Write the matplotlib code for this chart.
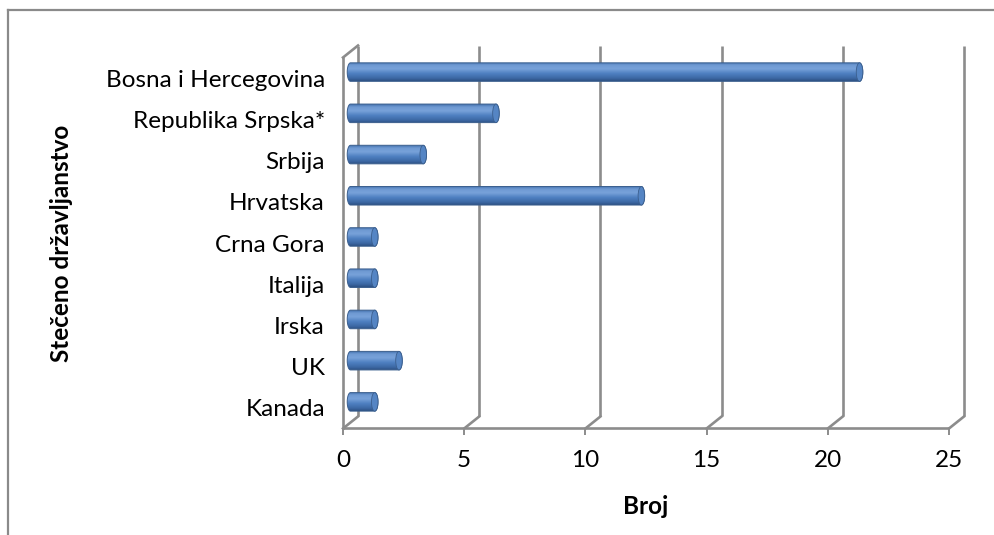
import numpy as np
import matplotlib
matplotlib.use("Agg")
import matplotlib.pyplot as plt
from matplotlib.transforms import offset_copy
from matplotlib.path import Path
from matplotlib.patches import PathPatch, Ellipse
from matplotlib.colors import LinearSegmentedColormap

categories = ["Bosna i Hercegovina", "Republika Srpska*", "Srbija", "Hrvatska",
              "Crna Gora", "Italija", "Irska", "UK", "Kanada"]
values = [21, 6, 3, 12, 1, 1, 1, 2, 1]
x_ticks = [0, 5, 10, 15, 20, 25]
x_label = "Broj"
y_label = "Stečeno državljanstvo"

FONT = "Lato"
plt.rcParams['font.family'] = [FONT, 'DejaVu Sans']

W, H = 995, 535
fig = plt.figure(figsize=(W / 100, H / 100), dpi=100)
fig.patch.set_facecolor("white")

# outer chart border (left and top visible)
fig.add_artist(plt.Line2D([8 / W, 8 / W], [0, 1 - 10 / H], transform=fig.transFigure,
                          color="#8a8a8a", lw=1.6))
fig.add_artist(plt.Line2D([8 / W, 1], [1 - 10 / H, 1 - 10 / H], transform=fig.transFigure,
                          color="#8a8a8a", lw=1.6))

left_px, right_px, bottom_px, top_px = 343, 949, 428.5, 57.5
ax = fig.add_axes([left_px / W, 1 - bottom_px / H, (right_px - left_px) / W,
                   (bottom_px - top_px) / H])
ax.set_facecolor("none")
for s in ax.spines.values():
    s.set_visible(False)

n = len(categories)
ypos = np.arange(n)[::-1]  # first category at top
ax.set_xlim(0, 25)
ax.set_ylim(-0.5, n - 0.5)

DX, DY = 15, 12  # depth offset in pixels
back = offset_copy(ax.transData, fig=fig, x=DX, y=DY, units='dots')
mid = offset_copy(ax.transData, fig=fig, x=DX / 2, y=DY / 2, units='dots')

gcol = "#8c8c8c"
glw = 1.9
y0, y1 = ax.get_ylim()
# back gridlines
for t in x_ticks:
    ax.plot([t, t], [y0, y1], color=gcol, lw=glw, transform=back, clip_on=False,
            solid_capstyle='butt', zorder=1)
for t in x_ticks:
    p0 = ax.transData.transform((t, y0))
    p1 = back.transform((t, y0))
    fig.add_artist(plt.Line2D([p0[0] / W, p1[0] / W], [p0[1] / H, p1[1] / H],
                              transform=fig.transFigure, color=gcol, lw=glw))
# front floor line
ax.plot([0, 25], [y0, y0], color=gcol, lw=glw, clip_on=False, zorder=1,
        solid_capstyle='butt')
# front left wall
ax.plot([0, 0], [y0, y1], color=gcol, lw=glw, clip_on=False, zorder=1)
p0 = ax.transData.transform((0, y1))
p1 = back.transform((0, y1))
fig.add_artist(plt.Line2D([p0[0] / W, p1[0] / W], [p0[1] / H, p1[1] / H],
                          transform=fig.transFigure, color=gcol, lw=glw))

# cylinders
cmap = LinearSegmentedColormap.from_list(
    "cyl", [(0.0, "#4270ad"), (0.15, "#6e99d2"), (0.35, "#78a2da"),
            (0.6, "#4f80c1"), (0.85, "#3d69a5"), (1.0, "#2d5184")])
grad = np.linspace(0, 1, 64).reshape(-1, 1)
bh = 0.45
cap_w = 0.27
for yc, v in zip(ypos, values):
    yb, yt = yc - bh / 2, yc + bh / 2
    th = np.linspace(np.pi / 2, -np.pi / 2, 40)
    right = np.column_stack([v + cap_w / 2 * np.cos(th), yc + bh / 2 * np.sin(th)])
    th2 = np.linspace(-np.pi / 2, -3 * np.pi / 2, 40)
    left = np.column_stack([0 + cap_w / 2 * np.cos(th2), yc + bh / 2 * np.sin(th2)])
    verts = np.vstack([right, left, right[:1]])
    path = Path(verts)
    outline = PathPatch(path, facecolor="none", edgecolor="#3b5f8e", lw=0.7,
                        transform=mid, zorder=4)
    ax.add_patch(outline)
    im = ax.imshow(grad, cmap=cmap, aspect='auto', origin='upper',
                   extent=(-cap_w / 2, v + cap_w / 2, yb, yt), transform=mid, zorder=3,
                   interpolation='bilinear')
    im.set_clip_path(outline)
    cap = Ellipse((v, yc), cap_w, bh, facecolor="#5585c4", edgecolor="#3b5f8e",
                  lw=0.6, transform=mid, zorder=5)
    ax.add_patch(cap)

ax.set_xlim(0, 25)
ax.set_ylim(-0.5, n - 0.5)

fs = 17.5
ax.set_yticks(ypos)
ax.set_yticklabels(categories)
ax.set_xticks(x_ticks)
ax.set_xticklabels([str(t) for t in x_ticks])
ax.tick_params(axis='y', length=0, pad=13, labelsize=fs)
ax.tick_params(axis='x', length=4.5, width=1.4, color=gcol, pad=11, labelsize=fs)

ax.set_xlabel(x_label, fontsize=fs, fontweight='bold', labelpad=17)
ax.set_ylabel(y_label, fontsize=fs, fontweight='bold')
ax.yaxis.set_label_coords((73 - left_px) / (right_px - left_px), 0.5)

fig.savefig("out.png", dpi=100)
